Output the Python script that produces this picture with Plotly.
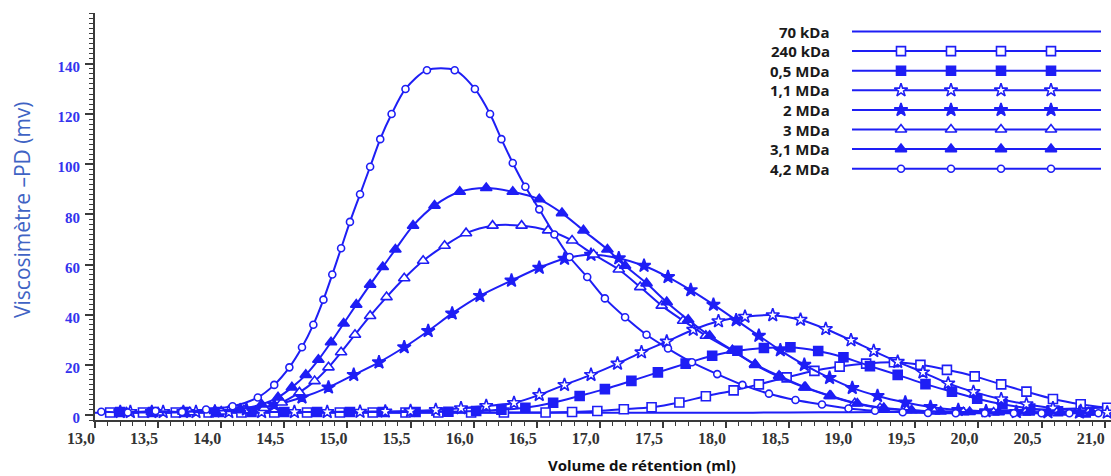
import plotly.graph_objects as go

# ---------------- data ----------------
x_70k = [13.0, 14.0, 15.0, 16.0, 17.0, 18.0, 18.5, 19.0, 19.5, 20.0, 20.5, 21.05]
y_70k = [0.9, 0.9, 0.9, 0.9, 0.9, 0.9, 1.0, 1.1, 1.3, 1.6, 2.2, 3.0]

x_240k = [13.12, 13.38, 13.64, 13.9, 14.16, 14.42, 14.68, 14.94, 15.2, 15.46, 15.72, 15.98, 16.24,
          16.57, 16.78, 16.98, 17.19, 17.41, 17.63, 17.84, 18.06, 18.26, 18.48, 18.7, 18.9, 19.11,
          19.33, 19.54, 19.75, 19.97, 20.18, 20.38, 20.59, 20.81, 21.02]
y_240k = [1.0, 1.0, 1.0, 1.0, 1.0, 1.0, 1.0, 1.0, 1.0, 1.0, 1.0, 1.0, 1.0,
          1.0, 1.2, 1.6, 2.3, 3.1, 5.0, 7.5, 9.8, 12.2, 15.0, 17.6, 19.3, 20.5,
          21.0, 20.0, 18.0, 15.4, 12.2, 9.3, 6.4, 4.3, 2.9]

x_05M = [13.2, 13.46, 13.72, 13.98, 14.24, 14.5, 14.76, 15.02, 15.28, 15.54, 15.8, 16.02, 16.22,
         16.41, 16.63, 16.84, 17.04, 17.25, 17.46, 17.68, 17.89, 18.09, 18.3, 18.51, 18.73, 18.93,
         19.14, 19.36, 19.58, 19.79, 19.99, 20.19, 20.41, 20.63, 20.85]
y_05M = [1.2, 1.2, 1.2, 1.2, 1.2, 1.2, 1.2, 1.2, 1.2, 1.2, 1.3, 1.6, 2.1,
         2.9, 4.9, 7.6, 10.3, 13.6, 17.0, 20.5, 23.6, 25.6, 26.7, 27.0, 25.5, 23.0,
         19.5, 16.0, 12.3, 9.3, 6.5, 4.3, 2.6, 1.5, 1.0]

x_11M = [13.28, 13.54, 13.8, 14.06, 14.32, 14.58, 14.84, 15.1, 15.3, 15.5, 15.7, 15.9, 16.1,
         16.32, 16.52, 16.72, 16.93, 17.14, 17.33, 17.53, 17.74, 17.94, 18.15, 18.37, 18.59, 18.79,
         18.99, 19.17, 19.36, 19.56, 19.76, 19.96, 20.18, 20.38, 20.59, 20.81, 21.02]
y_11M = [1.2, 1.2, 1.2, 1.2, 1.2, 1.2, 1.2, 1.3, 1.4, 1.6, 2.0, 2.7, 3.6,
         4.8, 8.0, 12.0, 16.0, 20.5, 25.0, 29.3, 34.0, 37.4, 39.2, 39.8, 38.0, 34.3,
         29.8, 25.5, 21.2, 17.0, 12.6, 9.2, 6.3, 4.3, 2.7, 1.6, 1.0]

x_2M = [13.2, 13.45, 13.7, 13.95, 14.2, 14.42, 14.64, 14.85, 15.05, 15.25, 15.45, 15.64, 15.83,
        16.05, 16.3, 16.52, 16.72, 16.93, 17.15, 17.35, 17.54, 17.72, 17.9, 18.08, 18.26, 18.43,
        18.62, 18.82, 19.0, 19.2, 19.42, 19.62, 19.84, 20.06, 20.3, 20.55, 20.8]
y_2M = [1.2, 1.2, 1.2, 1.4, 2.2, 4.0, 7.0, 11.0, 16.0, 21.0, 27.0, 33.5, 40.5,
        47.5, 53.6, 58.7, 62.3, 63.9, 62.5, 59.5, 55.0, 49.8, 44.0, 37.8, 31.6, 25.8,
        20.0, 14.8, 10.8, 7.6, 5.0, 3.2, 2.0, 1.5, 1.2, 1.1, 1.0]

x_3M = [13.25, 13.5, 13.75, 14.0, 14.18, 14.34, 14.48, 14.62, 14.74, 14.85, 14.95, 15.06, 15.18,
        15.31, 15.45, 15.6, 15.77, 15.94, 16.15, 16.38, 16.59, 16.78, 16.95, 17.15, 17.32, 17.49,
        17.66, 17.84, 18.05, 18.23, 18.43, 18.62, 18.82, 19.02, 19.22, 19.43, 19.65, 19.88, 20.12,
        20.37, 20.62, 20.87]
y_3M = [1.0, 1.0, 1.1, 1.4, 1.9, 2.8, 5.0, 9.0, 13.5, 19.0, 25.0, 32.0, 39.5,
        47.0, 54.5, 61.5, 67.5, 72.5, 75.5, 75.5, 73.6, 69.6, 64.0, 58.0, 51.0, 43.6,
        37.6, 31.6, 25.6, 20.0, 15.0, 11.0, 7.6, 4.7, 2.8, 1.9, 1.4, 1.1, 1.0,
        1.0, 1.0, 1.0]

x_31M = [13.2, 13.45, 13.7, 13.95, 14.15, 14.32, 14.45, 14.56, 14.67, 14.77, 14.87, 14.97, 15.07,
         15.18, 15.28, 15.38, 15.52, 15.69, 15.89, 16.1, 16.31, 16.52, 16.7, 16.87, 17.06, 17.2,
         17.37, 17.53, 17.7, 17.87, 18.05, 18.23, 18.42, 18.63, 18.83, 19.04, 19.25, 19.47, 19.7,
         19.93, 20.16, 20.4, 20.65, 20.9]
y_31M = [1.2, 1.2, 1.3, 1.6, 2.5, 4.2, 7.0, 11.0, 16.0, 22.0, 29.0, 36.5, 44.0,
         52.0, 59.0, 66.0, 75.5, 83.5, 89.0, 90.5, 89.0, 86.0, 80.5, 73.6, 66.0, 59.5,
         52.5, 45.0, 38.0, 31.6, 25.8, 20.2, 15.6, 11.0, 7.6, 4.6, 2.8, 1.9, 1.4,
         1.2, 1.1, 1.0, 1.0, 1.0]

x_42M = [13.05, 13.26, 13.48, 13.69, 13.88, 14.09, 14.29, 14.42, 14.54, 14.64, 14.73, 14.81, 14.88,
         14.95, 15.02, 15.1, 15.18, 15.26, 15.35, 15.46, 15.63, 15.85, 16.01, 16.13, 16.22, 16.31,
         16.41, 16.52, 16.64, 16.76, 16.9, 17.04, 17.2, 17.37, 17.54, 17.73, 17.93, 18.13, 18.34,
         18.55, 18.76, 18.97, 19.18, 19.4, 19.6, 19.82, 20.05, 20.28, 20.5, 20.72, 20.95]
y_42M = [1.3, 1.0, 1.6, 1.2, 2.2, 3.5, 7.0, 12.0, 19.0, 27.0, 36.0, 46.0, 56.0,
         66.5, 77.0, 88.0, 99.0, 110.0, 120.0, 130.0, 137.5, 137.5, 130.0, 120.0, 110.0, 100.5,
         91.0, 82.0, 72.0, 63.0, 55.0, 46.5, 39.0, 32.0, 26.5, 21.0, 16.3, 12.0, 8.5,
         6.0, 4.2, 2.6, 1.7, 1.1, 0.8, 0.7, 0.7, 0.7, 0.7, 0.7, 0.7]

series_names = ["70 kDa", "240 kDa", "0,5 MDa", "1,1 MDa", "2 MDa", "3 MDa", "3,1 MDa", "4,2 MDa"]

x_ticks = [13.0, 13.5, 14.0, 14.5, 15.0, 15.5, 16.0, 16.5, 17.0, 17.5, 18.0, 18.5, 19.0, 19.5, 20.0, 20.5, 21.0]
x_tick_labels = ["13,0", "13,5", "14,0", "14,5", "15,0", "15,5", "16,0", "16,5", "17,0", "17,5",
                 "18,0", "18,5", "19,0", "19,5", "20,0", "20,5", "21,0"]
y_ticks = [0, 20, 40, 60, 80, 100, 120, 140]

# ---------------- styling ----------------
BLUE = "#1e1ef5"
LW = 2
# (symbol, size, filled?)
styles = [
    (None, 0, True),
    ("square", 9, False),
    ("square", 9, True),
    ("star", 10, False),
    ("star", 10, True),
    ("triangle-up", 10, False),
    ("triangle-up", 10, True),
    ("circle", 7, False),
]
data = [(x_70k, y_70k), (x_240k, y_240k), (x_05M, y_05M), (x_11M, y_11M),
        (x_2M, y_2M), (x_3M, y_3M), (x_31M, y_31M), (x_42M, y_42M)]

fig = go.Figure()


def marker_dict(sym, size, filled):
    return dict(symbol=sym, size=size, color=BLUE if filled else "white",
                line=dict(color=BLUE, width=1.6))


for (xs, ys), name, (sym, size, filled) in zip(data, series_names, styles):
    if sym is None:
        fig.add_trace(go.Scatter(x=xs, y=ys, mode="lines", name=name, showlegend=False,
                                 line=dict(color=BLUE, width=LW, shape="spline", smoothing=0.8)))
    else:
        fig.add_trace(go.Scatter(x=xs, y=ys, mode="lines+markers", name=name, showlegend=False,
                                 line=dict(color=BLUE, width=LW, shape="spline", smoothing=0.8),
                                 marker=marker_dict(sym, size, filled)))

# ---------------- layout geometry ----------------
W, H = 1111, 476
L, R, T, B = 95, 0, 13, 56
plot_w = W - L - R
plot_h = H - T - B

# custom legend drawn on an overlay axis measured in pixels of the plot area
leg_row0, leg_dy = 31.5, 19.6
leg_x0, leg_x1 = 852, 1101
leg_mark_x = [901, 951, 1001, 1051]
leg_label_x = 832

for i, (name, (sym, size, filled)) in enumerate(zip(series_names, styles)):
    yy = leg_row0 + i * leg_dy
    fig.add_trace(go.Scatter(x=[leg_x0, leg_x1], y=[yy, yy], mode="lines", xaxis="x2", yaxis="y2",
                             showlegend=False, hoverinfo="skip",
                             line=dict(color=BLUE, width=LW)))
    if sym is not None:
        fig.add_trace(go.Scatter(x=leg_mark_x, y=[yy] * len(leg_mark_x), mode="markers",
                                 xaxis="x2", yaxis="y2", showlegend=False, hoverinfo="skip",
                                 marker=marker_dict(sym, size, filled)))
    fig.add_annotation(x=leg_label_x, y=yy, xref="x2", yref="y2", text=name, showarrow=False,
                       xanchor="right", yanchor="middle",
                       font=dict(family="Open Sans", size=15, color="#1a1a1a", weight="bold"))

AX = "#3a3a3a"
fig.update_layout(
    template="none",
    width=W, height=H,
    margin=dict(l=L, r=R, t=T, b=B, autoexpand=False),
    paper_bgcolor="white", plot_bgcolor="white",
    showlegend=False,
    hovermode=False,
    xaxis=dict(range=[13.0, 21.05], tickvals=x_ticks, ticktext=x_tick_labels, automargin=False,
               showgrid=False, zeroline=False, showline=True, linecolor=AX, linewidth=2,
               ticks="outside", ticklen=6, tickwidth=1.5, tickcolor=AX,
               ticklabelshift=-14, ticklabelstandoff=-3,
               tickfont=dict(family="Liberation Serif", size=16, color="#333333", weight="bold"),
               minor=dict(dtick=0.1, ticks="outside", ticklen=4, tickcolor=AX, tickwidth=1)),
    yaxis=dict(range=[-2.0, 160.3], tickvals=y_ticks, automargin=False,
               showgrid=False, zeroline=False, showline=True, linecolor=AX, linewidth=2,
               ticks="outside", ticklen=8, tickwidth=1.5, tickcolor=AX,
               ticklabelshift=3, ticklabelstandoff=2,
               tickfont=dict(family="Liberation Serif", size=15, color="#3333ee", weight="bold"),
               minor=dict(dtick=2, ticks="outside", ticklen=4, tickcolor=AX, tickwidth=1)),
    xaxis2=dict(range=[L, W - R], overlaying="x", visible=False, anchor="y2", automargin=False),
    yaxis2=dict(range=[H - B, T], overlaying="y", visible=False, anchor="x2", automargin=False),
)

# axis titles
fig.add_annotation(x=(22 - L) / plot_w, y=(H - B - 210) / plot_h, xref="paper", yref="paper",
                   text="Viscosimètre –PD (mv)", textangle=-90, showarrow=False,
                   xanchor="center", yanchor="middle",
                   font=dict(family="Open Sans", size=21, color="#3f63c4"))
fig.add_annotation(x=(642 - L) / plot_w, y=(H - B - 465) / plot_h, xref="paper", yref="paper",
                   text="Volume de rétention (ml)", showarrow=False,
                   xanchor="center", yanchor="middle",
                   font=dict(family="Open Sans", size=15, color="#111111", weight="bold"))

fig.write_html("out.html", config={"displayModeBar": False},
               post_script="document.body.style.margin='0px';")
